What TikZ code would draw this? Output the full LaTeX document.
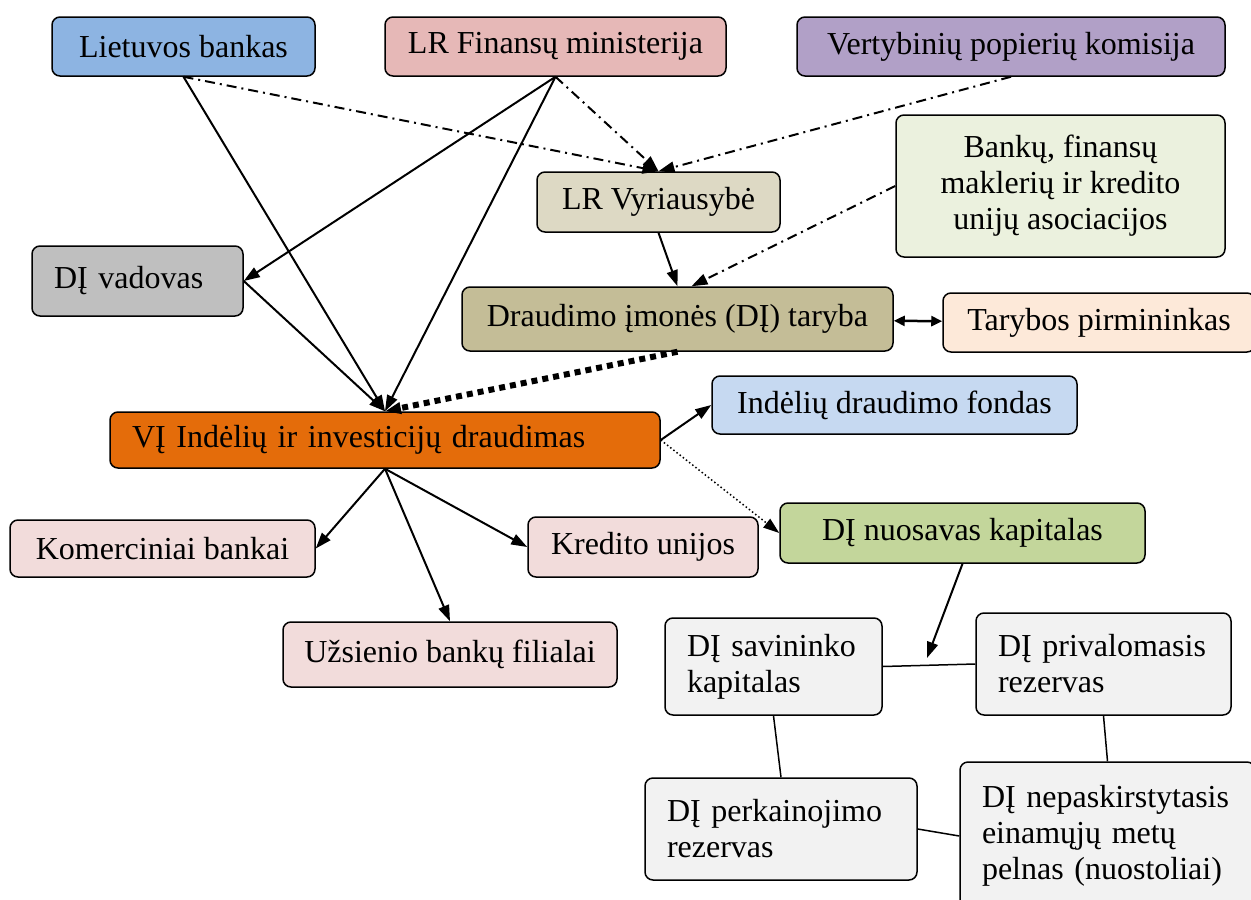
\documentclass[tikz,border=0pt]{standalone}
\usepackage{fontspec}
\setmainfont{Liberation Serif}
\usetikzlibrary{positioning,arrows.meta}
\definecolor{lbank}{RGB}{141,180,226}
\definecolor{finmin}{RGB}{230,184,183}
\definecolor{vpk}{RGB}{177,160,199}
\definecolor{vyr}{RGB}{221,217,196}
\definecolor{asoc}{RGB}{235,241,222}
\definecolor{vadov}{RGB}{191,191,191}
\definecolor{taryb}{RGB}{196,189,151}
\definecolor{pirm}{RGB}{253,233,217}
\definecolor{vidd}{RGB}{228,108,10}
\definecolor{fond}{RGB}{198,217,241}
\definecolor{bank}{RGB}{242,220,219}
\definecolor{nuos}{RGB}{195,214,155}
\definecolor{kap}{RGB}{242,242,242}

\begin{document}
\begin{tikzpicture}[x=1pt,y=-1pt,font=\fontsize{32}{36}\selectfont,
  >={Triangle[length=16pt,width=11pt]},
  box/.style={draw,rounded corners=8pt,line width=1.5pt,align=center,inner sep=4pt},
  lbox/.style={box,align=left,inner xsep=22pt},
  conn/.style={->,line width=2pt},
  ddash/.style={->,line width=2pt,dash pattern=on 10pt off 5pt on 2pt off 5pt},
  thin/.style={line width=1.5pt}]
  \useasboundingbox (0,0) rectangle (1251,900);
  % top row
  \node[box,fill=lbank,minimum width=263pt,minimum height=59pt] (lb) at (183.5,46.5) {Lietuvos bankas};
  \node[box,fill=finmin,minimum width=341pt,minimum height=59pt] (fm) at (555.5,46.5) {LR Finansų ministerija};
  \node[box,fill=vpk,minimum width=428pt,minimum height=59pt] (vp) at (1011,46.5) {Vertybinių popierių komisija};
  \node[box,fill=vyr,minimum width=243pt,minimum height=60pt] (gov) at (658.5,202) {LR Vyriausybė};
  \node[box,fill=asoc,minimum width=329pt,minimum height=142pt] (as) at (1060.5,186)
    {Bankų, finansų\\maklerių ir kredito\\unijų asociacijos};
  \node[lbox,fill=vadov,text width=167pt,minimum height=70pt] (vad) at (137.5,281) {DĮ vadovas};
  \node[box,fill=taryb,minimum width=431pt,minimum height=64pt] (tb) at (677.5,319) {Draudimo įmonės (DĮ) taryba};
  \node[box,fill=pirm,minimum width=312pt,minimum height=59pt] (tp) at (1099,322.5) {Tarybos pirmininkas};
  % middle
  \node[lbox,fill=vidd,text width=506pt,minimum height=56pt] (vi) at (385,440) {VĮ Indėlių ir investicijų draudimas};
  \node[box,fill=fond,minimum width=365pt,minimum height=58pt] (fd) at (894.5,405) {Indėlių draudimo fondas};
  \node[box,fill=bank,minimum width=305pt,minimum height=57pt] (kom) at (162.5,548.5) {Komerciniai bankai};
  \node[box,fill=bank,minimum width=230pt,minimum height=60pt] (kred) at (643,547) {Kredito unijos};
  \node[box,fill=bank,minimum width=334pt,minimum height=65pt] (uzs) at (450,654.5) {Užsienio bankų filialai};
  \node[box,fill=nuos,minimum width=365pt,minimum height=60pt] (nk) at (962.5,533) {DĮ nuosavas kapitalas};
  % capital parts
  \node[lbox,fill=kap,text width=173pt,minimum height=97pt] (sav) at (773.5,666.5) {DĮ savininko\\kapitalas};
  \node[lbox,fill=kap,text width=211pt,minimum height=102pt] (priv) at (1103.5,664) {DĮ privalomasis\\rezervas};
  \node[lbox,fill=kap,text width=228pt,minimum height=102pt] (perk) at (781,829) {DĮ perkainojimo\\rezervas};
  \node[lbox,fill=kap,text width=251pt,minimum height=148pt] (nep) at (1107.5,836)
    {DĮ nepaskirstytasis\\einamųjų metų\\pelnas (nuostoliai)};
  \coordinate (join) at (927,658);

  \draw[ddash] (lb.south) -- (gov.north);
  \draw[ddash] (fm.south) -- (gov.north);
  \draw[ddash] (vp.south) -- (gov.north);
  \draw[ddash] (as.west) -- ([xshift=14pt]tb.north);
  \draw[conn] (gov.south) -- (tb.north);
  \draw[conn] (lb.south) -- (vi.north);
  \draw[conn] (fm.south) -- (vad.east);
  \draw[conn] (fm.south) -- (vi.north);
  \draw[conn] (vad.east) -- (vi.north);
  \draw[{Triangle[length=11pt,width=10pt]}-{Triangle[length=11pt,width=10pt]},line width=2.5pt] (tb) -- (tp);
  \draw[->,line width=6pt,dash pattern=on 6pt off 5pt] (tb.south) -- (vi.north);
  \draw[conn] (vi.east) -- (fd.west);
  \draw[->,line width=1.5pt,dash pattern=on 1.5pt off 2.5pt] (vi.east) -- (nk.west);
  \draw[conn] (vi.south) -- (kom.east);
  \draw[conn] (vi.south) -- (uzs.north);
  \draw[conn] (vi.south) -- (kred.west);
  \draw[conn] (nk.south) -- (join);
  \draw[thin] (sav.east) -- (priv.west);
  \draw[thin] (sav.south) -- (perk.north);
  \draw[thin] (priv.south) -- (nep.north);
  \draw[thin] (perk.east) -- (nep.west);
\end{tikzpicture}
\end{document}
